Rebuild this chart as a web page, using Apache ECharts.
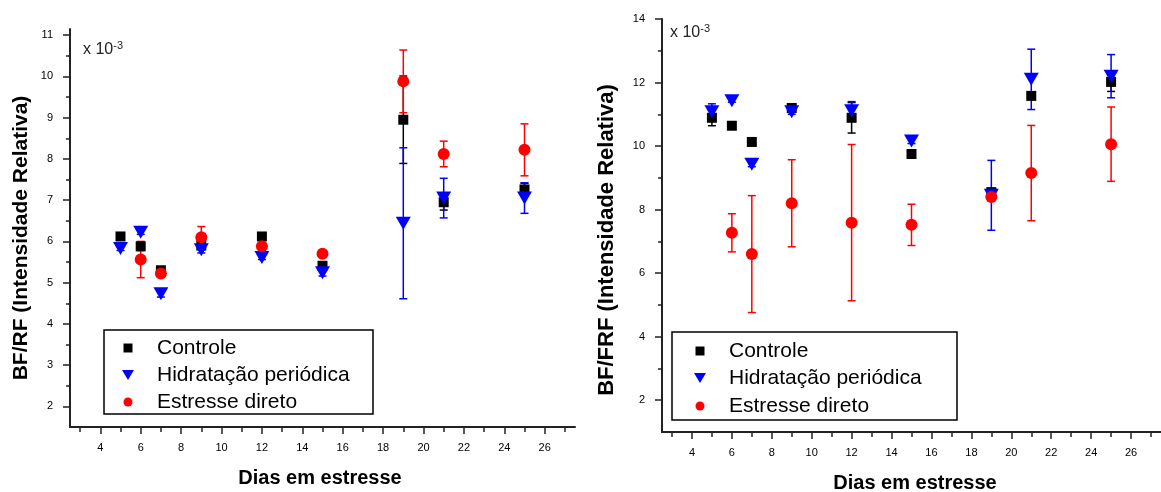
<!DOCTYPE html>
<html>
<head>
<meta charset="utf-8">
<script src="https://cdn.jsdelivr.net/npm/echarts@6/dist/echarts.min.js"></script>
<style>
  html, body { margin: 0; padding: 0; background: #fff; }
  #chart { width: 1161px; height: 492px; }
</style>
</head>
<body>
<div id="chart"></div>
<script>
// dias de estresse (comum aos dois painéis)
const dias = [5, 6, 7, 9, 12, 15, 19, 21, 25];

// painel esquerdo - BF/RF (x 10^-3)
const controleA = [6.12, 5.88, 5.30, 5.90, 6.12, 5.41, 8.95, 6.95, 7.26];
const controleAErr = [0.05, 0.10, 0.08, 0.08, 0.05, 0.08, 1.06, 0.19, 0.15];
const hidratA = [5.83, 6.22, 4.73, 5.80, 5.61, 5.24, 6.44, 7.05, 7.05];
const hidratAErr = [0.05, 0.05, 0.08, 0.08, 0.05, 0.08, 1.83, 0.48, 0.37];
const estresseA = [null, 5.56, 5.22, 6.10, 5.88, 5.70, 9.88, 8.12, 8.22];
const estresseAErr = [null, 0.44, 0.08, 0.26, 0.08, 0.08, 0.76, 0.31, 0.63];

// painel direito - BF/FRF (x 10^-3)
const controleB = [10.89, 10.64, 10.13, 11.20, 10.89, 9.75, 8.55, 11.58, 12.02];
const controleBErr = [0.25, 0.05, 0.05, 0.08, 0.48, 0.05, 0.08, 0.08, 0.30];
const hidratB = [11.08, 11.43, 9.43, 11.08, 11.11, 10.16, 8.45, 12.10, 12.20];
const hidratBErr = [0.25, 0.05, 0.08, 0.08, 0.29, 0.08, 1.10, 0.95, 0.68];
const estresseB = [null, 7.27, 6.60, 8.20, 7.59, 7.52, 8.40, 9.15, 10.06];
const estresseBErr = [null, 0.60, 1.84, 1.37, 2.46, 0.65, 0.08, 1.50, 1.17];

// marcas dos eixos
const xLabels = [4, 6, 8, 10, 12, 14, 16, 18, 20, 22, 24, 26];
const xMinor = [3, 5, 7, 9, 11, 13, 15, 17, 19, 21, 23, 25, 27];
const yLabelsA = [2, 3, 4, 5, 6, 7, 8, 9, 10, 11];
const yMinorA = [2.5, 3.5, 4.5, 5.5, 6.5, 7.5, 8.5, 9.5, 10.5];
const yLabelsB = [2, 4, 6, 8, 10, 12, 14];
const yMinorB = [3, 5, 7, 9, 11, 13];

const nomes = ['Controle', 'Hidratação periódica', 'Estresse direto'];
const cores = ['#000000', '#0000ff', '#ff0000'];
const fonte = '"Liberation Sans", Arial, sans-serif';

const myCharts = echarts.init(document.getElementById('chart'));

function eixoX(gridIndex, main) {
    return {
        type: 'value', gridIndex: gridIndex, position: 'bottom',
        min: 2.5, max: 27.5,
        axisLine: { show: main, onZero: false, lineStyle: { color: '#222', width: 2 } },
        axisTick: {
            show: true, inside: false, length: main ? 7 : 5,
            customValues: main ? xLabels : xMinor,
            lineStyle: { color: '#222', width: 1.5 }
        },
        axisLabel: {
            show: main, customValues: xLabels, margin: 15,
            color: '#000', fontSize: 11, fontFamily: fonte
        },
        splitLine: { show: false }
    };
}

function eixoY(gridIndex, main, min, max, labels, minor) {
    return {
        type: 'value', gridIndex: gridIndex, position: 'left',
        min: min, max: max,
        axisLine: { show: main, onZero: false, lineStyle: { color: '#222', width: 2 } },
        axisTick: {
            show: true, inside: false, length: main ? 7 : 4,
            customValues: main ? labels : minor,
            lineStyle: { color: '#222', width: 1.5 }
        },
        axisLabel: {
            show: main, customValues: labels, margin: 17,
            color: '#000', fontSize: 11, fontFamily: fonte
        },
        splitLine: { show: false }
    };
}

function pontos(nome, idx, vals, symbol, size, color, rotate) {
    var data = [];
    for (var i = 0; i < dias.length; i++) {
        if (vals[i] != null) data.push([dias[i], vals[i]]);
    }
    return {
        type: 'scatter', name: nome, xAxisIndex: idx, yAxisIndex: idx,
        data: data, symbol: symbol, symbolSize: size, symbolRotate: rotate || 0,
        itemStyle: { color: color, opacity: 1 },
        animation: false
    };
}

// barras de erro desenhadas pelas coordenadas do próprio eixo
function barras(nome, idx, vals, errs, color) {
    var rows = [];
    for (var i = 0; i < dias.length; i++) {
        if (vals[i] != null) rows.push([dias[i], vals[i] - errs[i], vals[i] + errs[i]]);
    }
    return {
        type: 'custom', name: nome, xAxisIndex: idx, yAxisIndex: idx,
        data: rows,
        encode: { x: 0, y: [1, 2] },
        animation: false,
        renderItem: function (params, api) {
            var x = api.value(0);
            var lo = api.coord([x, api.value(1)]);
            var hi = api.coord([x, api.value(2)]);
            var w = 4;
            var st = { stroke: color, lineWidth: 1.5 };
            return {
                type: 'group',
                children: [
                    { type: 'line', shape: { x1: lo[0], y1: lo[1], x2: hi[0], y2: hi[1] }, style: st },
                    { type: 'line', shape: { x1: lo[0] - w, y1: lo[1], x2: lo[0] + w, y2: lo[1] }, style: st },
                    { type: 'line', shape: { x1: hi[0] - w, y1: hi[1], x2: hi[0] + w, y2: hi[1] }, style: st }
                ]
            };
        }
    };
}

function painel(idx, ctrl, ctrlErr, hid, hidErr, est, estErr) {
    return [
        barras(nomes[0], idx, ctrl, ctrlErr, cores[0]),
        pontos(nomes[0], idx, ctrl, 'rect', 10, cores[0]),
        barras(nomes[1], idx, hid, hidErr, cores[1]),
        pontos(nomes[1], idx, hid, 'triangle', [15, 13], cores[1], 180),
        barras(nomes[2], idx, est, estErr, cores[2]),
        pontos(nomes[2], idx, est, 'circle', 12, cores[2])
    ];
}

// caixa de legenda (como no original: símbolo + texto dentro de um retângulo)
function legenda(x, y, w, h, rowsY, symX, textX) {
    var children = [
        { type: 'rect', shape: { x: 0, y: 0, width: w, height: h }, style: { fill: '#fff', stroke: '#000', lineWidth: 1.5 } },
        { type: 'rect', shape: { x: symX - 4.5, y: rowsY[0] - 4.5, width: 9, height: 9 }, style: { fill: cores[0] } },
        { type: 'polygon', shape: { points: [[symX - 6, rowsY[1] - 5], [symX + 6, rowsY[1] - 5], [symX, rowsY[1] + 5]] }, style: { fill: cores[1] } },
        { type: 'circle', shape: { cx: symX, cy: rowsY[2], r: 4.5 }, style: { fill: cores[2] } }
    ];
    for (var i = 0; i < 3; i++) {
        children.push({
            type: 'text', x: textX, y: rowsY[i],
            style: { text: nomes[i], font: '21px ' + fonte, fill: '#000', textVerticalAlign: 'middle' }
        });
    }
    return { type: 'group', x: x, y: y, z: 100, children: children };
}

function escala(x, y) {
    return {
        type: 'text', x: x, y: y,
        style: {
            text: '{a|x 10}{b|-3}',
            textVerticalAlign: 'middle',
            rich: {
                a: { fontSize: 16, fontFamily: fonte, fill: '#222', lineHeight: 20 },
                b: { fontSize: 11, fontFamily: fonte, fill: '#222', verticalAlign: 'top', lineHeight: 20 }
            }
        }
    };
}

function titulo(text, x, y, rot, size) {
    return {
        type: 'text', x: x, y: y, rotation: rot,
        style: { text: text, font: 'bold ' + size + 'px ' + fonte, fill: '#000', textAlign: 'center', textVerticalAlign: 'middle' }
    };
}

var option = {
    backgroundColor: '#fff',
    animation: false,
    grid: [
        { left: 70, top: 29, width: 505, height: 398 },
        { left: 662, top: 19, width: 510, height: 413 }
    ],
    xAxis: [eixoX(0, true), eixoX(1, true), eixoX(0, false), eixoX(1, false)],
    yAxis: [
        eixoY(0, true, 1.5, 11.15, yLabelsA, yMinorA),
        eixoY(1, true, 1, 14, yLabelsB, yMinorB),
        eixoY(0, false, 1.5, 11.15, yLabelsA, yMinorA),
        eixoY(1, false, 1, 14, yLabelsB, yMinorB)
    ],
    series: painel(0, controleA, controleAErr, hidratA, hidratAErr, estresseA, estresseAErr)
        .concat(painel(1, controleB, controleBErr, hidratB, hidratBErr, estresseB, estresseBErr)),
    graphic: [
        escala(83, 50),
        escala(670, 33),
        titulo('BF/RF (Intensidade Relativa)', 21, 238, Math.PI / 2, 21),
        titulo('BF/FRF (Intensidade Relativa)', 607, 240, Math.PI / 2, 22),
        titulo('Dias em estresse', 320, 478, 0, 20),
        titulo('Dias em estresse', 915, 483, 0, 20),
        legenda(104, 330, 269, 84, [18, 45, 72], 24, 53),
        legenda(672, 332, 285, 88, [19, 46, 74], 28, 57)
    ]
};
myCharts.setOption(option);
</script>
</body>
</html>
